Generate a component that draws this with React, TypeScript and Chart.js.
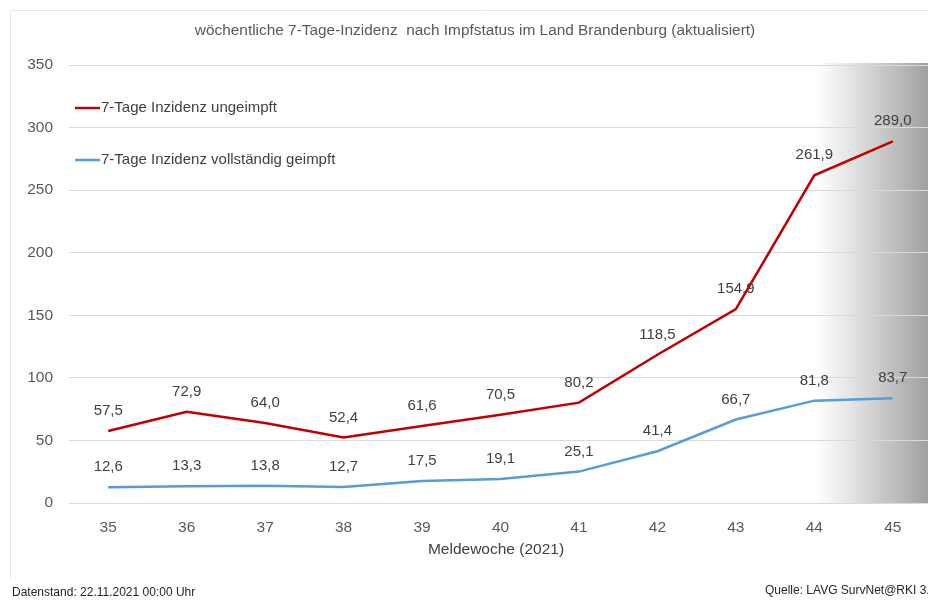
import React, { useEffect, useRef } from "react";
import { Chart, registerables } from "chart.js";

Chart.register(...registerables);

const weeks = ["35", "36", "37", "38", "39", "40", "41", "42", "43", "44", "45"];
const ungeimpft = [57.5, 72.9, 64.0, 52.4, 61.6, 70.5, 80.2, 118.5, 154.9, 261.9, 289.0];
const geimpft = [12.6, 13.3, 13.8, 12.7, 17.5, 19.1, 25.1, 41.4, 66.7, 81.8, 83.7];
const seriesNames = ["7-Tage Inzidenz ungeimpft", "7-Tage Inzidenz vollständig geimpft"];
const seriesColors = ["#c00000", "#5b9bd5"];
const titleText = "wöchentliche 7-Tage-Inzidenz  nach Impfstatus im Land Brandenburg (aktualisiert)";
const xTitle = "Meldewoche (2021)";
const footLeft = "Datenstand: 22.11.2021 00:00 Uhr";
const footRight = "Quelle: LAVG SurvNet@RKI 3.0";

const FONT = "'Liberation Sans', Arial, sans-serif";
const NARROW = "'Liberation Sans Narrow', 'Liberation Sans', Arial, sans-serif";

const decor = {
  id: "decor",
  beforeDraw(chart: any) {
    const ctx = chart.ctx;
    const a = chart.chartArea;
    ctx.save();
    ctx.fillStyle = "#ffffff";
    ctx.fillRect(0, 0, chart.width, chart.height);
    // frame
    ctx.strokeStyle = "#e6e6e6";
    ctx.lineWidth = 1;
    ctx.beginPath();
    ctx.moveTo(10.5, 578);
    ctx.lineTo(10.5, 10.5);
    ctx.lineTo(chart.width, 10.5);
    ctx.stroke();
    // gray gradient on right
    const gx = 815;
    const g = ctx.createLinearGradient(gx, 0, 950, 0);
    g.addColorStop(0, "rgba(255,255,255,1)");
    g.addColorStop(0.25, "#e6e6e6");
    g.addColorStop(0.84, "#a0a0a0");
    g.addColorStop(1, "#929292");
    ctx.fillStyle = g;
    ctx.fillRect(gx, a.top - 2, chart.width - gx, a.bottom - a.top + 2);
    ctx.restore();
  },
  afterDraw(chart: any) {
    const ctx = chart.ctx;
    ctx.save();
    // title
    ctx.fillStyle = "#595959";
    ctx.font = `15.4px ${FONT}`;
    ctx.textAlign = "center";
    ctx.textBaseline = "middle";
    ctx.fillText(titleText, 475, 31);
    // data labels
    ctx.fillStyle = "#404040";
    ctx.font = `15px ${FONT}`;
    chart.data.datasets.forEach((ds: any, di: number) => {
      const meta = chart.getDatasetMeta(di);
      meta.data.forEach((pt: any, i: number) => {
        const v = ds.data[i] as number;
        ctx.fillText(v.toFixed(1).replace(".", ","), pt.x, pt.y - 20);
      });
    });
    // legend
    const ly = [108, 160];
    ctx.textAlign = "left";
    for (let i = 0; i < 2; i++) {
      ctx.strokeStyle = seriesColors[i];
      ctx.lineWidth = 2.5;
      ctx.beginPath();
      ctx.moveTo(75, ly[i]);
      ctx.lineTo(100, ly[i]);
      ctx.stroke();
      ctx.fillStyle = "#404040";
      ctx.fillText(seriesNames[i], 101, ly[i]);
    }
    // x axis title
    ctx.textAlign = "center";
    ctx.fillStyle = "#404040";
    ctx.font = `15.5px ${FONT}`;
    ctx.fillText(xTitle, 496, 550);
    // footer
    ctx.font = `12px ${NARROW}`;
    ctx.fillStyle = "#262626";
    ctx.textAlign = "left";
    ctx.fillText(footLeft, 12, 593);
    ctx.fillText(footRight, 765, 591);
    ctx.restore();
  },
};

export default function App() {
  const ref = useRef<HTMLCanvasElement | null>(null);
  useEffect(() => {
    if (!ref.current) return;
    const chart = new Chart(ref.current, {
      type: "line",
      data: {
        labels: weeks,
        datasets: [
          {
            label: seriesNames[0],
            data: ungeimpft,
            borderColor: seriesColors[0],
            backgroundColor: seriesColors[0],
            borderWidth: 2.5,
            pointRadius: 0,
            tension: 0,
          },
          {
            label: seriesNames[1],
            data: geimpft,
            borderColor: seriesColors[1],
            backgroundColor: seriesColors[1],
            borderWidth: 2.5,
            pointRadius: 0,
            tension: 0,
          },
        ],
      },
      options: {
        responsive: false,
        animation: false,
        devicePixelRatio: 1,
        layout: { padding: { left: 0, right: 18, top: 65, bottom: 0 } },
        plugins: {
          legend: { display: false },
          title: { display: false },
          tooltip: { enabled: false },
        },
        scales: {
          x: {
            offset: true,
            grid: { display: false, drawTicks: false },
            border: { display: false },
            ticks: {
              color: "#595959",
              font: { size: 15.5, family: FONT },
              padding: 15,
              maxRotation: 0,
            },
            afterFit: (s: any) => {
              s.height = 97;
            },
          },
          y: {
            min: 0,
            max: 350,
            grid: { color: "#d9d9d9", lineWidth: 1, drawTicks: false },
            border: { display: false },
            ticks: {
              stepSize: 50,
              color: "#595959",
              font: { size: 15.5, family: FONT },
              padding: 16,
            },
            afterFit: (s: any) => {
              s.width = 69;
            },
          },
        },
      },
      plugins: [decor],
    });
    return () => chart.destroy();
  }, []);
  return (
    <div
      style={{
        position: "fixed",
        left: 0,
        top: 0,
        width: 928,
        height: 600,
        overflow: "hidden",
        background: "#fff",
      }}
    >
      <canvas ref={ref} width={950} height={600} style={{ display: "block" }} />
    </div>
  );
}
